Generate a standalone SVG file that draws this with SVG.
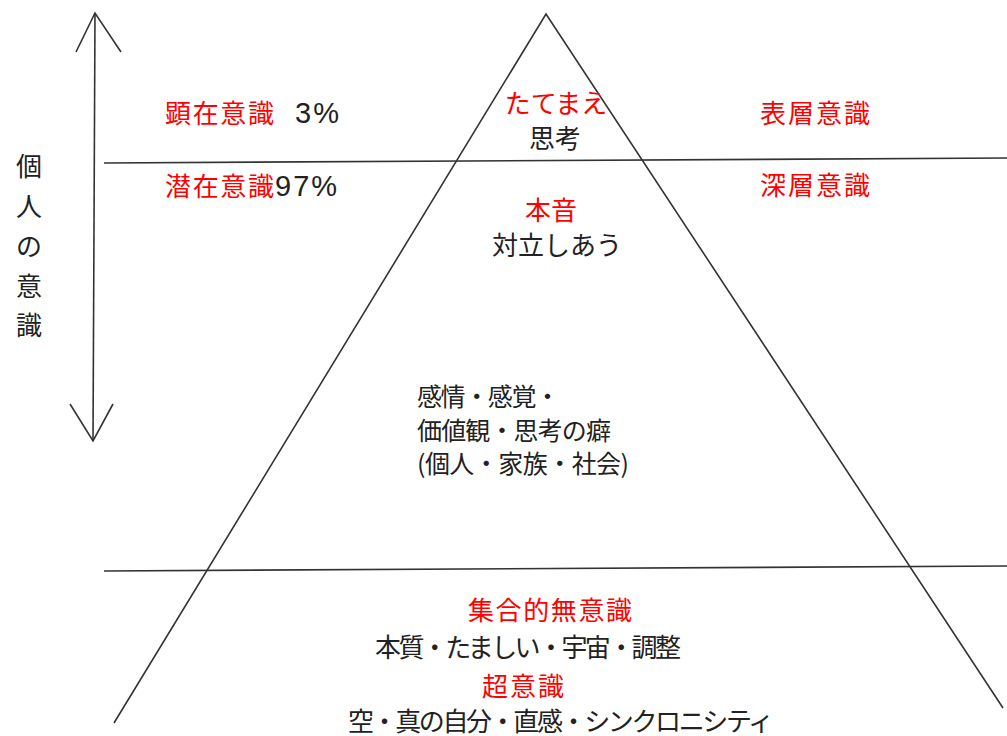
<svg xmlns="http://www.w3.org/2000/svg" width="1007" height="736" viewBox="0 0 1007 736">
<style>
text{font-family:"Noto Sans CJK JP","Noto Sans",sans-serif;font-size:26px}
.r{fill:#ff0000}
.k{fill:#222}
.n{font-family:"Liberation Sans",Arial,sans-serif;font-size:29px;letter-spacing:2px}
.m{font-size:25px}
.ln{stroke:#333;stroke-width:1.6;fill:none}
</style>
<rect width="1007" height="736" fill="#fff"/>
<g id="connectors">
<path class="ln" d="M95,13 L93,441"/>
<path class="ln" d="M76,52 L95,13 L121,52"/>
<path class="ln" d="M70,404 L93,441 L113,404"/>
<path class="ln" d="M104,163 L1007,158"/>
<path class="ln" d="M104,571 L1007,566"/>
<path class="ln" d="M114,723 L546,14 L1003,708"/>
</g>
<g id="vertical-label">
<text class="k" x="29" y="176" text-anchor="middle" font-size="34">個</text>
<text class="k" x="29" y="216" text-anchor="middle" font-size="34">人</text>
<text class="k" x="29" y="256" text-anchor="middle" font-size="34">の</text>
<text class="k" x="29" y="296" text-anchor="middle" font-size="34">意</text>
<text class="k" x="29" y="335" text-anchor="middle" font-size="34">識</text>
</g>
<g id="left-labels">
<text class="r" x="165" y="123" font-size="27" textLength="109">顕在意識</text>
<text class="k n" x="295" y="123">3%</text>
<text class="r" x="165" y="196" font-size="27" textLength="109">潜在意識</text>
<text class="k n" x="275" y="196">97%</text>
</g>
<g id="right-labels">
<text class="r" x="760" y="123" font-size="27" textLength="110">表層意識</text>
<text class="r" x="760" y="195" font-size="27" textLength="110">深層意識</text>
</g>
<g id="top">
<text class="r" x="556" y="113" text-anchor="middle" font-size="27">たてまえ</text>
<text class="k" x="555" y="148" text-anchor="middle">思考</text>
</g>
<g id="honne">
<text class="r" x="551" y="220" text-anchor="middle" font-size="27">本音</text>
<text class="k" x="557" y="255" text-anchor="middle">対立しあう</text>
</g>
<g id="middle">
<text class="k m" x="417" y="406" textLength="143">感情・感覚・</text>
<text class="k m" x="417" y="440" textLength="194">価値観・思考の癖</text>
<text class="k m" x="417" y="473" textLength="212">(個人・家族・社会)</text>
</g>
<g id="collective">
<text class="r" x="468" y="620" font-size="27" textLength="164">集合的無意識</text>
<text class="k" x="375" y="657" textLength="306">本質・たましい・宇宙・調整</text>
</g>
<g id="super">
<text class="r" x="482" y="696" textLength="82">超意識</text>
<text class="k" x="348" y="731" textLength="426">空・真の自分・直感・シンクロニシティ</text>
</g>
</svg>
